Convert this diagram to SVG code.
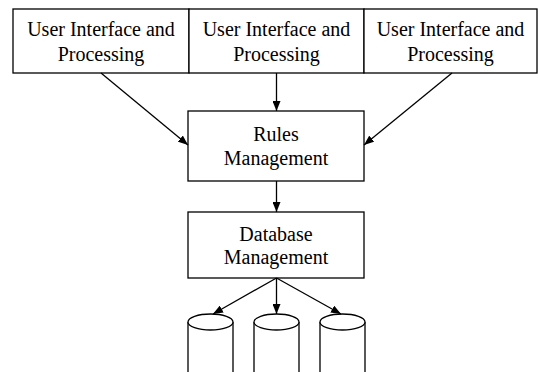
<svg xmlns="http://www.w3.org/2000/svg" width="538" height="372" viewBox="0 0 538 372">
  <style>
    .box { fill: #fff; stroke: #000; stroke-width: 1.3; }
    .lbl { font-family: "Liberation Serif", "Times New Roman", serif; font-size: 20px; fill: #000; text-anchor: middle; }
    .edge { stroke: #000; stroke-width: 1.3; fill: none; }
    .db { fill: #fff; stroke: #000; stroke-width: 1.3; }
  </style>
  <defs>
    <marker id="arrow" viewBox="0 0 10 8" refX="10" refY="4" markerWidth="10" markerHeight="8" markerUnits="userSpaceOnUse" orient="auto">
      <path d="M0,0 L10,4 L0,8 Z" fill="#000"/>
    </marker>
  </defs>
  <rect width="538" height="372" fill="#fff"/>

  <g id="ui-left">
    <rect class="box" x="13" y="9" width="176" height="64"/>
    <text class="lbl" x="101" y="36">User Interface and</text>
    <text class="lbl" x="101" y="61">Processing</text>
  </g>
  <g id="ui-middle">
    <rect class="box" x="189" y="9" width="175" height="64"/>
    <text class="lbl" x="276.5" y="36">User Interface and</text>
    <text class="lbl" x="276.5" y="61">Processing</text>
  </g>
  <g id="ui-right">
    <rect class="box" x="364" y="9" width="173" height="64"/>
    <text class="lbl" x="450.5" y="36">User Interface and</text>
    <text class="lbl" x="450.5" y="61">Processing</text>
  </g>

  <g id="rules">
    <rect class="box" x="188" y="111" width="176" height="70"/>
    <text class="lbl" x="276" y="141">Rules</text>
    <text class="lbl" x="276" y="165">Management</text>
  </g>

  <g id="database">
    <rect class="box" x="188" y="212" width="176" height="66"/>
    <text class="lbl" x="276" y="241">Database</text>
    <text class="lbl" x="276" y="264">Management</text>
  </g>

  <g id="store-1">
    <path class="db" d="M188,322 L188,373 L233,373 L233,322"/>
    <ellipse class="db" cx="210.5" cy="322" rx="22.5" ry="8"/>
  </g>
  <g id="store-2">
    <path class="db" d="M254,322 L254,373 L299,373 L299,322"/>
    <ellipse class="db" cx="276.5" cy="322" rx="22.5" ry="8"/>
  </g>
  <g id="store-3">
    <path class="db" d="M320,322 L320,373 L365,373 L365,322"/>
    <ellipse class="db" cx="342.5" cy="322" rx="22.5" ry="8"/>
  </g>

  <g id="connectors">
    <line class="edge" x1="101" y1="73" x2="188" y2="145" marker-end="url(#arrow)"/>
    <line class="edge" x1="276.5" y1="73" x2="276.5" y2="111" marker-end="url(#arrow)"/>
    <line class="edge" x1="452" y1="73" x2="364" y2="145" marker-end="url(#arrow)"/>
    <line class="edge" x1="276.5" y1="181" x2="276.5" y2="212" marker-end="url(#arrow)"/>
    <line class="edge" x1="276.5" y1="278" x2="213" y2="314" marker-end="url(#arrow)"/>
    <line class="edge" x1="276.5" y1="278" x2="276.5" y2="314" marker-end="url(#arrow)"/>
    <line class="edge" x1="276.5" y1="278" x2="341" y2="314" marker-end="url(#arrow)"/>
  </g>
</svg>
